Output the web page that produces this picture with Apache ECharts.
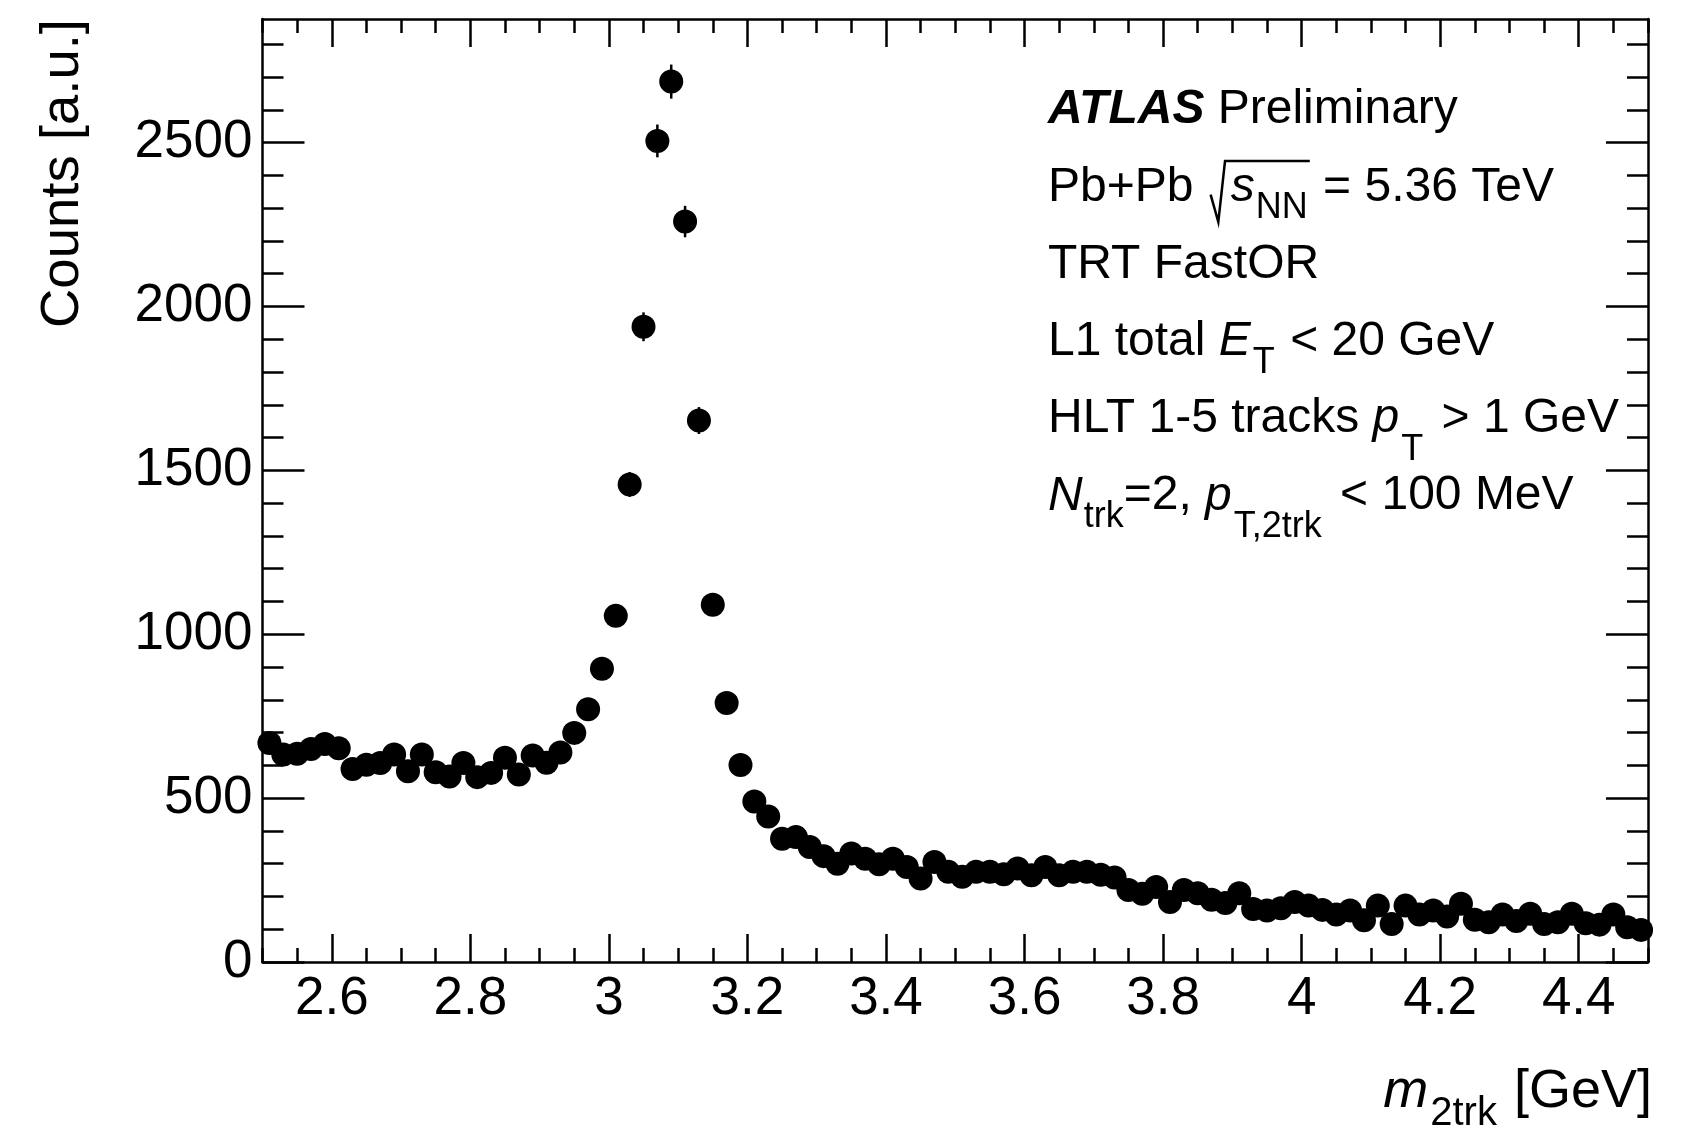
<!DOCTYPE html>
<html><head><meta charset="utf-8">
<script src="https://cdn.jsdelivr.net/npm/echarts@6/dist/echarts.min.js"></script>
<style>html,body{margin:0;padding:0;background:#fff}#c{width:1682px;height:1126px}</style>
</head><body><div id="c"></div>
<script>
// ---------------- data ----------------
const binCenters = [
  2.51,2.53,2.55,2.57,2.59,2.61,2.63,2.65,2.67,2.69,
  2.71,2.73,2.75,2.77,2.79,2.81,2.83,2.85,2.87,2.89,
  2.91,2.93,2.95,2.97,2.99,3.01,3.03,3.05,3.07,3.09,
  3.11,3.13,3.15,3.17,3.19,3.21,3.23,3.25,3.27,3.29,
  3.31,3.33,3.35,3.37,3.39,3.41,3.43,3.45,3.47,3.49,
  3.51,3.53,3.55,3.57,3.59,3.61,3.63,3.65,3.67,3.69,
  3.71,3.73,3.75,3.77,3.79,3.81,3.83,3.85,3.87,3.89,
  3.91,3.93,3.95,3.97,3.99,4.01,4.03,4.05,4.07,4.09,
  4.11,4.13,4.15,4.17,4.19,4.21,4.23,4.25,4.27,4.29,
  4.31,4.33,4.35,4.37,4.39,4.41,4.43,4.45,4.47,4.49
];
const counts = [
  668,633,635,650,665,652,589,602,607,633,
  582,633,579,566,607,564,577,623,572,630,
  608,639,699,771,895,1056,1457,1938,2505,2686,
  2259,1652,1090,790,601,490,444,376,381,351,
  323,300,331,315,298,315,290,255,305,275,
  260,275,275,268,285,265,290,265,275,275,
  266,258,220,208,229,183,220,210,190,180,
  210,162,157,164,183,172,159,145,157,127,
  172,116,172,145,157,139,178,129,121,145,
  125,147,116,121,147,118,114,145,106,98
];
// statistical error bars visible beyond the markers (peak region)
const errBins   = [3.03, 3.05, 3.07, 3.09, 3.11, 3.13, 3.15];
const errValues = [38,   44,   50,   52,   48,   41,   33];

const xMajorTicks = [2.6, 2.8, 3, 3.2, 3.4, 3.6, 3.8, 4, 4.2, 4.4];
const yMajorTicks = [0, 500, 1000, 1500, 2000, 2500];
const xRange = [2.5, 4.5];
const yRange = [0, 2877];

const xMinorTicks = [];
for (let i = 0; i <= 40; i++) xMinorTicks.push(+(2.5 + 0.05 * i).toFixed(2));
const yMinorTicks = [];
for (let v = 0; v <= 2800; v += 100) yMinorTicks.push(v);

// ---------------- styling helpers ----------------
const FONT = '"Liberation Sans", Arial, Helvetica, sans-serif';
const mctx = document.createElement('canvas').getContext('2d');
function fontStr(size, it, b) { return (it ? 'italic ' : '') + (b ? 'bold ' : '') + size + 'px ' + FONT; }
function measure(t, size, it, b) { mctx.font = fontStr(size, it, b); return mctx.measureText(t).width; }
const MID = 0.35;

function textLine(x, baseline, runs, align) {
  const widths = runs.map(r => measure(r.t, r.size, r.it, r.b) + (r.pre || 0) + (r.post || 0));
  const total = widths.reduce((a, b) => a + b, 0);
  let cx = align === 'right' ? x - total : x;
  const els = [], pos = [];
  runs.forEach((r, i) => {
    const sx = cx + (r.pre || 0);
    const w = measure(r.t, r.size, r.it, r.b);
    pos.push([sx, sx + w]);
    els.push({
      type: 'text', x: sx, y: baseline + (r.dy || 0) - MID * r.size, silent: true,
      style: { text: r.t, font: fontStr(r.size, r.it, r.b), fill: '#000',
               align: 'left', textAlign: 'left', verticalAlign: 'middle', textVerticalAlign: 'middle' }
    });
    cx += widths[i];
  });
  return { els, pos };
}

// ---------------- text block ----------------
const TX = 1048, S = 48, SUB = 36, LH = 77.2, B0 = 127;
const graphics = [];
graphics.push(...textLine(TX, B0, [{t: 'ATLAS', size: S, it: true, b: true}, {t: ' Preliminary', size: S}]).els);

const B2 = B0 + LH;
const L2 = textLine(TX, B2, [
  {t: 'Pb+Pb ', size: S},
  {t: 's', size: S, it: true, pre: 0.5 * S},
  {t: 'NN', size: SUB, dy: 16, pre: 1},
  {t: ' = 5.36 TeV', size: S, pre: 2}
]);
graphics.push(...L2.els);
{
  const c = L2.pos[0][1];
  const end = L2.pos[2][1] + 2;
  graphics.push({
    type: 'polyline', silent: true,
    shape: { points: [[c + 0.08 * S, B2 - 0.2 * S], [c + 0.24 * S, B2 + 0.37 * S], [c + 0.38 * S, B2 - 0.9 * S], [end, B2 - 0.9 * S]] },
    style: { stroke: '#000', lineWidth: 2.5, fill: null }
  });
}
graphics.push(...textLine(TX, B0 + 2 * LH, [{t: 'TRT FastOR', size: S}]).els);
graphics.push(...textLine(TX, B0 + 3 * LH, [
  {t: 'L1 total ', size: S}, {t: 'E', size: S, it: true}, {t: 'T', size: SUB, dy: 17, pre: 2}, {t: ' < 20 GeV', size: S, pre: 2}
]).els);
graphics.push(...textLine(TX, B0 + 4 * LH, [
  {t: 'HLT 1-5 tracks ', size: S}, {t: 'p', size: S, it: true}, {t: 'T', size: SUB, dy: 27, pre: 2}, {t: ' > 1 GeV', size: S, pre: 5}
]).els);
graphics.push(...textLine(TX, B0 + 5 * LH, [
  {t: 'N', size: S, it: true}, {t: 'trk', size: SUB, dy: 17, pre: 1}, {t: '=2, ', size: S},
  {t: 'p', size: S, it: true}, {t: 'T,2trk', size: SUB, dy: 27, pre: 2}, {t: ' < 100 MeV', size: S, pre: 5}
]).els);

// axis titles
graphics.push(...textLine(1652, 1111, [
  {t: 'm', size: 54, it: true}, {t: '2trk', size: 40, dy: 17, pre: 2}, {t: ' [GeV]', size: 54, pre: 2}
], 'right').els);
graphics.push({
  type: 'text', x: 63, y: 19, rotation: Math.PI / 2, silent: true,
  style: { text: 'Counts [a.u.]', font: fontStr(54.5), fill: '#000', align: 'right', textAlign: 'right',
           verticalAlign: 'middle', textVerticalAlign: 'middle' }
});

// ---------------- axes ----------------
const LW = 2.5;
const plain = v => String(v);
function xAx(pos, ticks, len, line, labels) {
  return {
    type: 'value', position: pos, min: xRange[0], max: xRange[1],
    axisLine: { show: line, onZero: false, lineStyle: { color: '#000', width: LW } },
    axisTick: { show: true, inside: true, length: len, customValues: ticks, lineStyle: { color: '#000', width: LW } },
    axisLabel: labels ? { show: true, customValues: xMajorTicks, formatter: plain, fontSize: 53, fontFamily: FONT, color: '#000', margin: 11 } : { show: false },
    splitLine: { show: false }
  };
}
function yAx(pos, ticks, len, line, labels) {
  return {
    type: 'value', position: pos, min: yRange[0], max: yRange[1],
    axisLine: { show: line, onZero: false, lineStyle: { color: '#000', width: LW } },
    axisTick: { show: true, inside: true, length: len, customValues: ticks, lineStyle: { color: '#000', width: LW } },
    axisLabel: labels ? { show: true, customValues: yMajorTicks, formatter: plain, fontSize: 53, fontFamily: FONT, color: '#000', margin: 10 } : { show: false },
    splitLine: { show: false }
  };
}

const chart = echarts.init(document.getElementById('c'), null, { renderer: 'canvas' });
chart.setOption({
  animation: false,
  backgroundColor: '#fff',
  grid: { left: 262.5, right: 34, top: 19, bottom: 164, containLabel: false },
  xAxis: [
    xAx('bottom', xMajorTicks, 28, true, true),
    xAx('bottom', xMinorTicks, 14, false, false),
    xAx('top', xMajorTicks, 28, true, false),
    xAx('top', xMinorTicks, 14, false, false)
  ],
  yAxis: [
    yAx('left', yMajorTicks, 42, true, true),
    yAx('left', yMinorTicks, 21, false, false),
    yAx('right', yMajorTicks, 42, true, false),
    yAx('right', yMinorTicks, 21, false, false)
  ],
  series: [
    {
      type: 'custom', xAxisIndex: 0, yAxisIndex: 0, clip: false, z: 3,
      data: errBins.map((x, i) => [x, counts[binCenters.indexOf(x)], errValues[i]]),
      renderItem: (params, api) => {
        const x = api.value(0), y = api.value(1), e = api.value(2);
        const p1 = api.coord([x, y - e]), p2 = api.coord([x, y + e]);
        return { type: 'line', shape: { x1: p1[0], y1: p1[1], x2: p2[0], y2: p2[1] }, style: { stroke: '#000', lineWidth: 2.5 } };
      }
    },
    {
      type: 'scatter', xAxisIndex: 0, yAxisIndex: 0, clip: false, z: 4,
      symbol: 'circle', symbolSize: 24,
      itemStyle: { color: '#000', opacity: 1 },
      emphasis: { disabled: true },
      data: binCenters.map((x, i) => [x, counts[i]])
    }
  ],
  graphic: { elements: graphics }
});
</script>
</body></html>
